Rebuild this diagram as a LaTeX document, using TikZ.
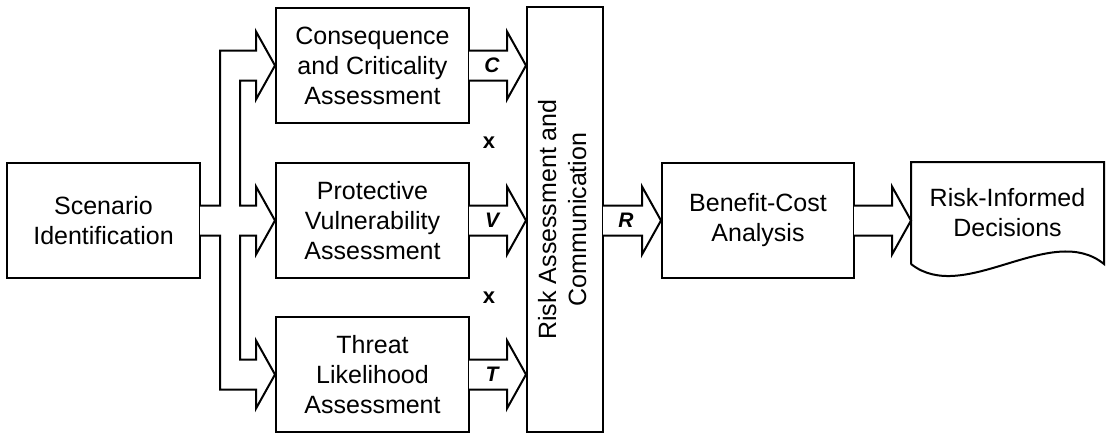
\documentclass[tikz,border=0pt]{standalone}
\usepackage{fontspec}
\setmainfont{Liberation Sans}
\usetikzlibrary{calc}

% sizes of the block arrows (in picture units)
\def\arrshaft{15}
\def\arrhead{34}
\def\arrlen{19}
\newcommand{\fathead}[1]{($(#1)+(-\arrlen,-\arrshaft)$) -- ($(#1)+(-\arrlen,-\arrhead)$) -- (#1) -- ($(#1)+(-\arrlen,\arrhead)$) -- ($(#1)+(-\arrlen,\arrshaft)$)}
\newcommand{\fatarrow}[2]{\filldraw[blockarrow] ($(#1)+(-1,-\arrshaft)$) -- \fathead{#2} -- ($(#1)+(-1,\arrshaft)$);}

\begin{document}
\begin{tikzpicture}[x=0.5pt,y=-0.5pt,line width=1pt,
    box/.style={draw,minimum width=96.5pt,minimum height=57.5pt,align=center,
        font=\fontsize{12.5}{15}\selectfont},
    blockarrow/.style={fill=white,line join=miter},
    lbl/.style={font=\fontsize{10.5}{12}\bfseries\itshape},
    times/.style={font=\fontsize{11}{13}\bfseries}]

    \useasboundingbox (0,0) rectangle (1108,436);

    % boxes
    \node[box] (scen) at (103.5,220.5) {Scenario\\Identification};
    \node[box] (cons) at (372.5,65.5) {Consequence\\and Criticality\\Assessment};
    \node[box] (vuln) at (372.5,220.5) {Protective\\Vulnerability\\Assessment};
    \node[box] (threat) at (372.5,374.5) {Threat\\Likelihood\\Assessment};
    \node[box,minimum width=38pt,minimum height=212.5pt,inner sep=0pt] (risk) at (565,219.5)
        {\rotatebox{90}{\begin{tabular}{@{}c@{}}Risk Assessment and\\Communication\end{tabular}}};
    \node[box,minimum width=96pt] (bca) at (758,220.5) {Benefit-Cost\\Analysis};
    \node[box,draw=none,minimum width=95.5pt,minimum height=50pt] (dec) at (1007.5,213) {Risk-Informed\\Decisions};
    \draw (dec.south west) -- (dec.north west) -- (dec.north east) -- (dec.south east)
        .. controls ($(dec.south east)+(-53,-43)$) and ($(dec.south west)+(53,42)$) .. (dec.south west);

    % branching arrow out of the scenarios
    \coordinate (fo) at ($(scen.east)+(19,0)$);
    \coordinate (fi) at ($(scen.east)+(39,0)$);
    \filldraw[blockarrow] ($(scen.east)+(-1,-\arrshaft)$) -- ($(fo)+(0,-\arrshaft)$)
        -- ($(fo |- cons.west)+(0,-\arrshaft)$) -- \fathead{cons.west}
        -- ($(fi |- cons.west)+(0,\arrshaft)$) -- ($(fi)+(0,-\arrshaft)$) -- \fathead{vuln.west}
        -- ($(fi)+(0,\arrshaft)$) -- ($(fi |- threat.west)+(0,-\arrshaft)$) -- \fathead{threat.west}
        -- ($(fo |- threat.west)+(0,\arrshaft)$) -- ($(fo)+(0,\arrshaft)$) -- ($(scen.east)+(-1,\arrshaft)$);

    % straight arrows
    \fatarrow{cons.east}{cons.east -| risk.west}
    \fatarrow{vuln.east}{vuln.east -| risk.west}
    \fatarrow{threat.east}{threat.east -| risk.west}
    \fatarrow{bca.west -| risk.east}{bca.west}
    \fatarrow{bca.east}{bca.east -| dec.west}

    % labels
    \node[lbl] (c) at ($(cons.east)+(22,0)$) {C};
    \node[lbl] (v) at ($(vuln.east)+(22,0)$) {V};
    \node[lbl] (t) at ($(threat.east)+(22,0)$) {T};
    \node[lbl] (r) at ($(bca.west -| risk.east)+(22,0)$) {R};
    \node[times] (x1) at ($(cons.east)!0.5!(vuln.east)+(19,0)$) {x};
    \node[times] (x2) at ($(vuln.east)!0.5!(threat.east)+(19,0)$) {x};
\end{tikzpicture}
\end{document}
